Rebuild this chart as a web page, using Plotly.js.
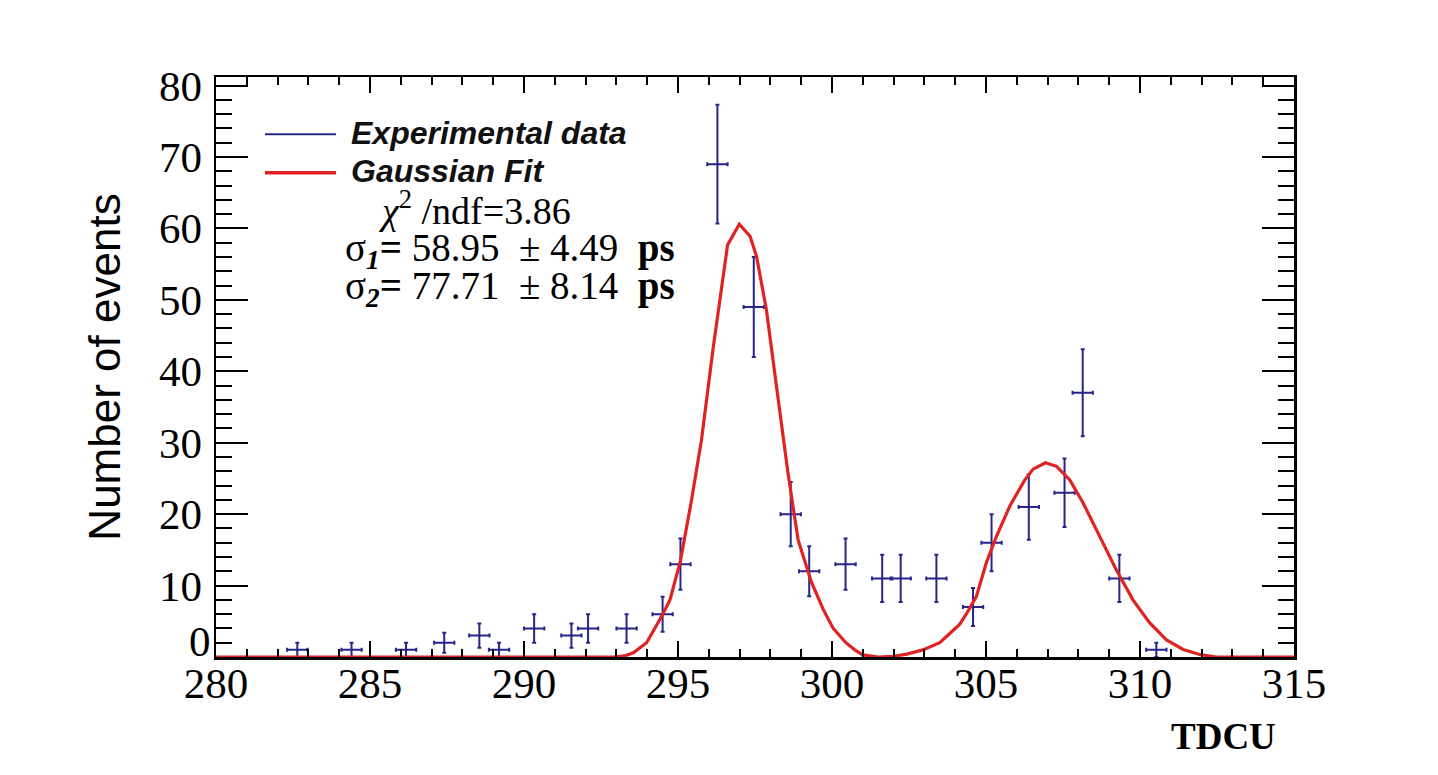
<!DOCTYPE html>
<html>
<head>
<meta charset="utf-8">
<script src="https://cdn.plot.ly/plotly-3.0.1.min.js"></script>
<style>html,body{margin:0;padding:0;background:#fff;}#chart{width:1438px;height:775px;}</style>
</head>
<body>
<div id="chart"></div>
<script>
const dataX = [282.64, 284.40, 286.17, 287.41, 288.55, 289.19, 290.33, 291.54, 292.08, 293.33, 294.50, 295.08, 296.28, 297.46, 298.66, 299.26, 300.44, 301.63, 302.23, 303.39, 304.58, 305.18, 306.39, 307.55, 308.14, 309.33, 310.53];
const dataY = [1, 1, 1, 2, 3, 1, 4, 3, 4, 4, 6, 13, 69, 49, 20, 12, 13, 11, 11, 11, 7, 16, 21, 23, 37, 11, 1];
const dataYErr = [1, 1, 1, 1.4, 1.7, 1, 2, 1.7, 2, 2, 2.45, 3.6, 8.3, 7, 4.5, 3.5, 3.6, 3.3, 3.3, 3.3, 2.65, 4, 4.6, 4.8, 6.1, 3.3, 1];
const dataXErr = [0.33, 0.33, 0.33, 0.33, 0.33, 0.33, 0.33, 0.33, 0.33, 0.33, 0.33, 0.33, 0.33, 0.33, 0.33, 0.33, 0.33, 0.33, 0.33, 0.33, 0.33, 0.33, 0.33, 0.33, 0.33, 0.33, 0.33];

// Gaussian fit curve
const fitX = [280, 292.95, 293.3, 293.55, 293.98, 294.47, 294.74, 295.08, 295.42, 295.76, 296.14, 296.61, 296.99, 297.34, 297.55, 297.87, 298.20, 298.58, 298.90, 299.33, 299.71, 300.04, 300.45, 300.74, 301.0, 301.5, 302.0, 302.43, 302.95, 303.5, 303.85, 304.15, 304.4, 304.69, 305.01, 305.34, 305.77, 306.26, 306.53, 306.93, 307.29, 307.72, 308.15, 308.69, 309.23, 309.77, 310.31, 310.86, 311.40, 311.94, 312.48, 315];
const fitY = [0, 0, 0.2, 0.6, 2.0, 5.7, 8.0, 13.5, 21.5, 30.3, 43.2, 57.7, 60.6, 58.9, 56.1, 48.6, 37.8, 25.5, 16.4, 10.5, 6.7, 4.0, 2.0, 1.0, 0.3, 0, 0.1, 0.4, 1.0, 2.0, 3.4, 4.6, 6.3, 8.5, 13.2, 16.9, 21.1, 24.8, 26.3, 27.2, 26.7, 24.8, 21.6, 16.9, 12.2, 8.0, 4.8, 2.4, 1.05, 0.35, 0, 0];

// Axis ticks
const xTickVals = [280, 285, 290, 295, 300, 305, 310, 315];
const xTickText = ['280', '285', '290', '295', '300', '305', '310', '315'];
const yTickVals = [0, 10, 20, 30, 40, 50, 60, 70, 80];
const yTickText = ['0', '10', '20', '30', '40', '50', '60', '70', '80'];

const legendNames = ['Experimental data', 'Gaussian Fit'];
const statLines = [
  '<i>χ</i><sup>2</sup> /ndf=3.86',
  'σ<sub><b><i>1</i></b></sub><b>=</b> 58.95\u00A0\u00A0± 4.49\u00A0\u00A0<b>ps</b>',
  'σ<sub><b><i>2</i></b></sub><b>=</b> 77.71\u00A0\u00A0± 8.14\u00A0\u00A0<b>ps</b>'
];

const navy = '#27258a';
const red = '#e02222';
const serif = 'Liberation Serif, Times New Roman, serif';
const sans = 'Liberation Sans, Arial, sans-serif';

const W = 1438, H = 775;
const L = 216, R = 1294.5, T = 76.7, B = 657.5;
const px = v => (v - L) / (R - L);
const py = v => (B - v) / (B - T);

// The lowest y label is drawn raised above the frame corner (as in the reference)
const yTickTextShown = yTickText.map((t, i) => i === 0 ? '' : t);

const traces = [
  {
    type: 'scatter', mode: 'markers', name: legendNames[0],
    x: dataX, y: dataY,
    marker: {size: 1, color: navy},
    error_y: {type: 'data', array: dataYErr, visible: true, color: navy, thickness: 2, width: 2},
    error_x: {type: 'data', array: dataXErr, visible: true, color: navy, thickness: 2, width: 2},
    showlegend: false, cliponaxis: true
  },
  {
    type: 'scatter', mode: 'lines', name: legendNames[1],
    x: fitX, y: fitY,
    line: {color: red, width: 3.2},
    showlegend: false
  }
];

const axisCommon = {
  showgrid: false, zeroline: false, showline: true, linecolor: 'black', linewidth: 2.5,
  mirror: 'allticks', ticks: 'inside', tickcolor: 'black', tickwidth: 2,
  tickmode: 'array'
};

const layout = {
  width: W, height: H,
  margin: {l: L, r: W - R, t: T, b: H - B, pad: 0},
  paper_bgcolor: 'white', plot_bgcolor: 'white',
  showlegend: false,
  xaxis: Object.assign({}, axisCommon, {
    range: [280, 315], tickvals: xTickVals, ticktext: xTickText, ticklen: 16,
    tickfont: {family: serif, size: 43, color: 'black'}, ticklabelstandoff: -13,
    minor: {dtick: 1, tick0: 280, ticklen: 8, ticks: 'inside', tickcolor: 'black', tickwidth: 2, showgrid: false}
  }),
  yaxis: Object.assign({}, axisCommon, {
    range: [0, 81.2], tickvals: yTickVals, ticktext: yTickTextShown, ticklen: 32,
    tickfont: {family: serif, size: 43, color: 'black'}, ticklabelstandoff: 3,
    minor: {dtick: 2, tick0: 0, ticklen: 16, ticks: 'inside', tickcolor: 'black', tickwidth: 2, showgrid: false},
    title: {text: 'Number of events', font: {family: sans, size: 44, color: 'black'}, standoff: 25}
  }),
  shapes: [
    {type: 'line', xref: 'paper', yref: 'paper', x0: px(265), x1: px(336), y0: py(134), y1: py(134), line: {color: navy, width: 2}},
    {type: 'line', xref: 'paper', yref: 'paper', x0: px(265), x1: px(336), y0: py(172.7), y1: py(172.7), line: {color: red, width: 3.5}}
  ],
  annotations: [
    {xref: 'paper', yref: 'paper', x: px(213), y: py(642), xanchor: 'right', yanchor: 'middle', showarrow: false,
     text: yTickText[0], font: {family: serif, size: 43, color: 'black'}},
    {xref: 'paper', yref: 'paper', x: px(349), y: py(132.5), xanchor: 'left', yanchor: 'middle', showarrow: false,
     text: '<b><i>' + legendNames[0] + '</i></b>', font: {family: sans, size: 32, color: '#111'}},
    {xref: 'paper', yref: 'paper', x: px(349), y: py(171), xanchor: 'left', yanchor: 'middle', showarrow: false,
     text: '<b><i>' + legendNames[1] + '</i></b>', font: {family: sans, size: 32, color: '#111'}},
    {xref: 'paper', yref: 'paper', x: px(376), y: py(208), xanchor: 'left', yanchor: 'middle', showarrow: false,
     text: statLines[0], font: {family: serif, size: 38, color: 'black'}},
    {xref: 'paper', yref: 'paper', x: px(343), y: py(250), xanchor: 'left', yanchor: 'middle', showarrow: false,
     text: statLines[1], font: {family: serif, size: 39, color: 'black'}},
    {xref: 'paper', yref: 'paper', x: px(343), y: py(288), xanchor: 'left', yanchor: 'middle', showarrow: false,
     text: statLines[2], font: {family: serif, size: 39, color: 'black'}},
    {xref: 'paper', yref: 'paper', x: px(1278), y: py(737), xanchor: 'right', yanchor: 'middle', showarrow: false,
     text: '<b>TDCU</b>', font: {family: serif, size: 37, color: 'black'}}
  ]
};

Plotly.newPlot('chart', traces, layout, {displayModeBar: false, staticPlot: true});
</script>
</body>
</html>
